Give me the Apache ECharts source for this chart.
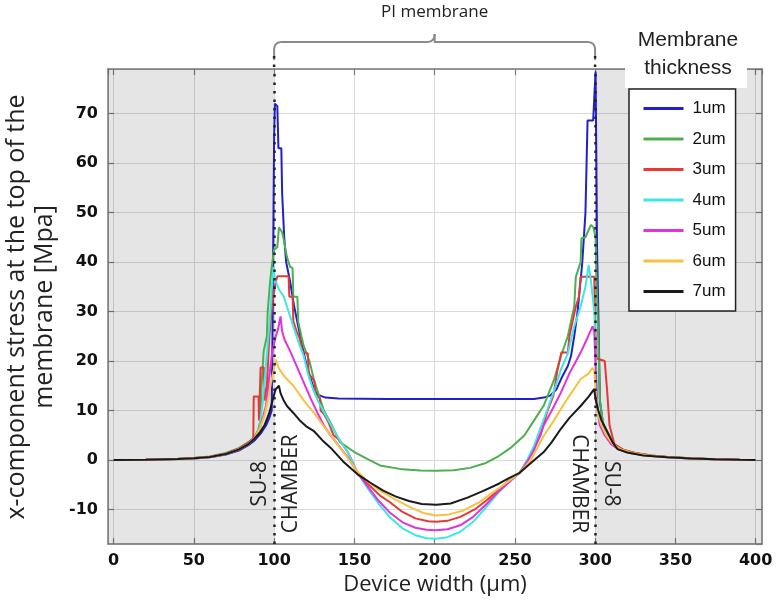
<!DOCTYPE html>
<html><head><meta charset="utf-8">
<script src="https://cdn.jsdelivr.net/npm/echarts@6/dist/echarts.min.js"></script>
<style>html,body{margin:0;padding:0;background:#fff}#c{width:776px;height:601px}</style>
</head><body><div id="c"></div>
<script>
// ---- data ----
const seriesNames = ['1um','2um','3um','4um','5um','6um','7um'];
const seriesColors = ['#2020cc','#4caf50','#e53935','#3ee6e6','#e033d8','#f5c242','#1a1a1a'];

const um1 = [[0,0],[20,0.05],[40,0.2],[50,0.3],[60,0.55],[70,1.1],[78,1.9],[84,3],[88,4],[92,5.5],[95,7],[97,8.5],[98.5,10],[99,25],[99.5,45],[100,65],[100.5,72],[102,71.5],[102.7,63],[104.5,63],[105,54],[106,54],[106.3,45],[107.5,40],[110,36],[112.3,31.4],[115,27],[117.5,23],[120,19.5],[122.7,16.5],[125,14.2],[127,13.2],[132,12.6],[140,12.4],[170,12.3],[230,12.3],[262,12.3],[268,12.6],[272,13],[276,14.3],[279,16.5],[283,19],[285,21],[287,25],[289,29.7],[292,39.8],[294,50],[295,50],[295.3,68.6],[298.8,68.6],[300.3,78.5],[300.8,60],[301.2,43],[302,30],[303,12],[305,7],[308,4.8],[312,2.8],[318,1.9],[325,1.3],[335,0.85],[345,0.6],[360,0.3],[375,0.15],[390,0.05],[400,0]];

const um2 = [[0,0],[20,0.06],[40,0.25],[50,0.4],[60,0.7],[70,1.4],[78,2.4],[84,3.6],[88,4.8],[90,6],[91.5,8],[92,14],[93.5,22],[95.5,25],[96,30],[97.5,36],[98.5,39],[100,42.5],[102,43],[103,47],[105,46],[106,44.5],[108,41],[110,39],[111.5,38.8],[112,33],[114.5,33],[115,28],[117,25],[118.5,23],[122,20],[125,16],[128,13],[131,10],[136,7],[141,3.6],[150,1.6],[158,0.2],[166,-1.1],[180,-1.9],[191,-2.15],[201,-2.2],[212,-2.1],[222,-1.6],[232,-0.6],[240,0.8],[248,2.6],[256,5],[262,8],[268,11],[274.5,16.3],[278.7,21],[283,25],[287,31],[288,37],[291,40],[291.5,44.8],[294,45],[297.4,47.5],[299,47],[300.3,45],[301,35],[302,25],[303,12],[305,7.5],[308,5],[312,2.8],[318,2],[325,1.4],[335,0.9],[345,0.6],[360,0.35],[375,0.15],[390,0.05],[400,0]];

const um3 = [[0,0],[20,0.05],[40,0.22],[50,0.38],[60,0.65],[70,1.3],[78,2.3],[84,3.5],[87,4.2],[87.3,12.8],[90.3,12.8],[90.6,8],[91.3,8],[91.6,18.7],[93.6,18.7],[94,12],[95.5,15],[97,25],[99,32],[101,36],[102,37.1],[109,37.1],[109.5,33],[111.5,33],[112,28],[114,26],[116,24.5],[117.5,22],[121,21.5],[121.5,17.5],[125,16],[126,13],[128.5,12.5],[129,10],[131,9.3],[134,7.5],[137,5],[141,4],[146,1.5],[149,-0.5],[152,-2.6],[156,-4.2],[160,-5.3],[166,-7.2],[172,-8.5],[180,-10.5],[188,-11.8],[196,-12.4],[201,-12.5],[208,-12.3],[216,-11.5],[225,-10],[233,-8],[240,-6],[246,-4.2],[253,-2.6],[258,0],[262,2.5],[266,5],[270,9.6],[274,13],[276.5,18],[279,21.7],[283,21.7],[284,25],[286,28],[288,31],[290,33],[291,37],[299.5,37],[300,27],[301,20.5],[306,20],[307.5,14],[309,7],[312,3.2],[318,2],[325,1.4],[335,0.9],[345,0.6],[360,0.35],[375,0.15],[390,0.05],[400,0]];

const um4 = [[0,0],[20,0.05],[40,0.2],[50,0.35],[60,0.6],[70,1.2],[78,2.1],[84,3.2],[88,4.5],[91,6.5],[93,12],[95.7,22],[97.7,30],[99.5,39],[100.5,36.4],[103,34.5],[106,33],[109,30],[112,27],[115,24],[118.5,21],[121,17.5],[124.6,14],[128,11.5],[133,8.5],[140,4.5],[146,1.5],[152,-2.6],[158,-5.6],[165,-8.8],[172,-11.5],[180,-13.8],[188,-15.2],[195,-15.8],[201,-15.9],[208,-15.6],[216,-14.5],[224,-12.5],[232,-9.6],[240,-6.5],[247,-4.3],[253,-2.6],[258,0.2],[262,2.9],[266,6.5],[270.4,10.3],[275,14.5],[279,18.5],[283,21.5],[287,27],[291,31],[294,35],[296,39.4],[297.5,36],[299.5,30],[300.5,20],[301.5,11],[303,7.5],[306,5.5],[310,3.3],[315,2.1],[322,1.4],[332,0.9],[345,0.55],[360,0.3],[375,0.15],[390,0.05],[400,0]];

const um5 = [[0,0],[20,0.05],[40,0.2],[50,0.34],[60,0.6],[70,1.2],[78,2.1],[84,3.2],[88,4.5],[91,6.3],[93,8.5],[95,11],[97,17],[99,22],[101,25],[102.5,26.5],[104,29],[105,26],[106.5,24.3],[110,22],[114,19],[118,16],[122.7,12.5],[127,9.5],[131,7],[135,5],[140,3],[146,0.5],[152,-2.6],[158,-5.2],[165,-8.2],[172,-10.6],[180,-12.6],[188,-13.7],[195,-14.1],[201,-14.2],[208,-14],[216,-13.2],[224,-11.5],[232,-9],[240,-6.3],[247,-4.3],[253,-2.6],[258,-0.2],[262,2],[268,7],[273,10],[278.7,13.6],[284,17.5],[291,21.7],[295,24.5],[298.4,27],[299.5,26],[300.5,17],[301.5,10],[303,7],[306,5],[310,3.2],[315,2.1],[322,1.4],[332,0.9],[345,0.55],[360,0.3],[375,0.15],[390,0.05],[400,0]];

const um6 = [[0,0],[20,0.05],[40,0.2],[50,0.34],[60,0.6],[70,1.2],[78,2.1],[84,3.2],[88,4.5],[91,6.3],[94,9],[96,12],[98,15.5],[100,18.5],[101,20.3],[102,20],[103,18.5],[105,17.5],[108,16.3],[112,15],[118.5,12],[124.6,9.6],[131,6.8],[137,4.2],[145,0.8],[152,-2.4],[158,-4.2],[165,-6],[175,-7.9],[185,-9.6],[193,-10.7],[201,-11.2],[209,-11],[218,-10.2],[228,-8.5],[238,-6.2],[246,-4.3],[253,-2.6],[260,0],[268,4.9],[274,7.8],[278.7,10.3],[284,13],[291,16.3],[296,17.5],[298.4,18.6],[299.5,18],[300.5,13],[302,9],[304,7],[307,5],[311,3.2],[316,2.1],[323,1.4],[333,0.9],[345,0.55],[360,0.3],[375,0.15],[390,0.05],[400,0]];

const um7 = [[0,0],[20,0.05],[40,0.2],[50,0.34],[60,0.6],[70,1.2],[78,2.1],[84,3.2],[88,4.4],[91,5.5],[94,7],[97,9.5],[99.7,12.9],[101,14.3],[103,15],[104,13.5],[106,12],[108,10.9],[112,9.5],[116.5,7.8],[120,6.8],[124.6,5.9],[130,4],[136,2.2],[143,-0.3],[152,-2.9],[160,-4.6],[168,-6.2],[176,-7.4],[184,-8.3],[192,-8.9],[201,-9.05],[210,-8.8],[220.5,-7.6],[230,-6.3],[240,-4.8],[246,-3.7],[253,-2.6],[260,-0.6],[268,1.6],[273,3.6],[278.7,6.3],[284,8.5],[291,10.9],[296,12.8],[299.4,14.3],[300.5,12],[302,10],[304,8],[307.8,5.6],[311,3.5],[314,2.2],[320,1.5],[330,0.9],[345,0.55],[360,0.3],[375,0.15],[390,0.05],[400,0]];

const seriesData = [um1, um2, um3, um4, um5, um6, um7];

const xRange = [-3.5, 404];
const yRange = [-17, 79];
const chamberEdges = [100, 300];   // SU-8 / chamber boundaries (x)

// ---- chart ----
const chart = echarts.init(document.getElementById('c'), null, {renderer: 'canvas'});
const tickFont = {fontFamily: 'DejaVu Sans', fontWeight: 'bold', fontSize: 16, color: '#111'};
const axisLine = {show: true, onZero: false, lineStyle: {color: '#7a7a7a', width: 1.5}};
const axisTick = {show: true, inside: true, length: 6, lineStyle: {color: '#7a7a7a', width: 1.2}};

const series = seriesNames.map((n, i) => ({
  name: n, type: 'line', data: seriesData[i], symbol: 'none', showSymbol: false,
  lineStyle: {color: seriesColors[i], width: 2}, itemStyle: {color: seriesColors[i]},
  z: 3, animation: false
}));
series.unshift({
  name: 'bg', type: 'line', data: [], symbol: 'none', z: -1, silent: true, animation: false,
  markArea: {silent: true, itemStyle: {color: 'rgba(0,0,0,0.1)'},
    data: [[{xAxis: xRange[0]}, {xAxis: chamberEdges[0]}], [{xAxis: chamberEdges[1]}, {xAxis: xRange[1]}]]}
});
series.push({
  name: 'edges', type: 'line', data: [], symbol: 'none', z: 10, silent: true, animation: false,
  markLine: {silent: true, symbol: 'none', animation: false, label: {show: false},
    lineStyle: {color: '#222', type: [2.5, 6], width: 2.5},
    data: chamberEdges.map(v => ({xAxis: v}))}
});

chart.setOption({
  animation: false,
  backgroundColor: '#fff',
  grid: {left: 108, right: 14, top: 69, bottom: 56},
  xAxis: [{
    type: 'value', min: xRange[0], max: xRange[1], splitNumber: 8,
    axisLine, axisTick,
    axisLabel: Object.assign({showMinLabel: false, showMaxLabel: false, margin: 9}, tickFont),
    splitLine: {show: true, lineStyle: {color: '#dadada', width: 1}},
    name: 'Device width (μm)', nameLocation: 'middle', nameGap: 25,
    nameTextStyle: {fontFamily: 'Open Sans', fontSize: 22, color: '#222'}
  }, {
    type: 'value', position: 'top', min: xRange[0], max: xRange[1], splitNumber: 8,
    axisLine, axisTick, axisLabel: {show: false}, splitLine: {show: false}
  }],
  yAxis: [{
    type: 'value', min: yRange[0], max: yRange[1], splitNumber: 10,
    axisLine, axisTick,
    axisLabel: Object.assign({showMinLabel: false, showMaxLabel: false, margin: 10}, tickFont),
    splitLine: {show: true, lineStyle: {color: '#dadada', width: 1}}
  }, {
    type: 'value', position: 'right', min: yRange[0], max: yRange[1], splitNumber: 10,
    axisLine, axisTick, axisLabel: {show: false}, splitLine: {show: false}
  }],
  legend: {
    data: seriesNames, orient: 'vertical', left: 629, top: 89,
    itemWidth: 40, itemHeight: 14, itemGap: 13.5, padding: [11, 10, 11, 13],
    backgroundColor: '#fff', borderColor: '#222', borderWidth: 1.5,
    lineStyle: {width: 3},
    itemStyle: {opacity: 0, borderWidth: 0},
    textStyle: {fontFamily: 'Liberation Sans', fontSize: 17, color: '#111', width: 42, padding: [0, 0, 0, 4]},
    z: 20
  },
  series
});

// ---- annotations placed through the chart's own scales ----
const p = v => chart.convertToPixel({xAxisIndex: 0, yAxisIndex: 0}, v);
const xa = p([chamberEdges[0], 0])[0];
const xb = p([chamberEdges[1], 0])[0];
const xm = (xa + xb) / 2;
const yTop = p([0, yRange[1]])[1];
const yLab = p([0, -4.8])[1];
const r = 8, yb = 42, ye = 60;
function quad(p0, c, p1) {
  const pts = [];
  for (let i = 0; i <= 8; i++) {
    const t = i / 8, u = 1 - t;
    pts.push([u*u*p0[0] + 2*u*t*c[0] + t*t*p1[0], u*u*p0[1] + 2*u*t*c[1] + t*t*p1[1]]);
  }
  return pts;
}
const braceLeft = [[xa, ye]].concat(quad([xa, yb + r], [xa, yb], [xa + r, yb]), quad([xm - r, yb], [xm, yb], [xm, yb - r]));
const braceRight = [[xm, yb - r]].concat(quad([xm, yb], [xm, yb], [xm + r, yb]).slice(1), quad([xb - r, yb], [xb, yb], [xb, yb + r]), [[xb, ye]]);
const braceStyle = {stroke: '#8a8a8a', lineWidth: 2, fill: null};
const annFont = {fontFamily: 'Open Sans', fontSize: 21, fill: '#222'};

chart.setOption({
  graphic: [
    {type: 'polyline', shape: {points: braceLeft}, style: braceStyle, z: 10},
    {type: 'polyline', shape: {points: braceRight}, style: braceStyle, z: 10},
    {type: 'line', shape: {x1: xa, y1: ye - 4, x2: xa, y2: yTop}, style: {stroke: '#222', lineWidth: 2.5, lineDash: [2.5, 6]}, z: 10},
    {type: 'line', shape: {x1: xb, y1: ye - 4, x2: xb, y2: yTop}, style: {stroke: '#222', lineWidth: 2.5, lineDash: [2.5, 6]}, z: 10},
    {type: 'text', x: xm, y: 12, style: {text: 'PI membrane', fontFamily: 'Open Sans', fontSize: 17, fill: '#222', align: 'center', verticalAlign: 'middle'}, z: 10},
    {type: 'rect', shape: {x: 625, y: 22, width: 122, height: 66}, style: {fill: '#fff'}, z: 15},
    {type: 'text', x: 688, y: 40, style: {text: 'Membrane', fontFamily: 'Liberation Sans', fontSize: 21, fill: '#222', align: 'center', verticalAlign: 'middle'}, z: 16},
    {type: 'text', x: 688, y: 68, style: {text: 'thickness', fontFamily: 'Liberation Sans', fontSize: 21, fill: '#222', align: 'center', verticalAlign: 'middle'}, z: 16},
    {type: 'text', x: xa - 14, y: yLab, rotation: Math.PI / 2, style: Object.assign({text: 'SU-8', align: 'center', verticalAlign: 'middle'}, annFont), z: 12},
    {type: 'text', x: xa + 16.5, y: yLab, rotation: Math.PI / 2, style: Object.assign({text: 'CHAMBER', align: 'center', verticalAlign: 'middle'}, annFont), z: 12},
    {type: 'text', x: xb - 16, y: yLab, rotation: -Math.PI / 2, style: Object.assign({text: 'CHAMBER', align: 'center', verticalAlign: 'middle'}, annFont), z: 12},
    {type: 'text', x: xb + 16, y: yLab, rotation: -Math.PI / 2, style: Object.assign({text: 'SU-8', align: 'center', verticalAlign: 'middle'}, annFont), z: 12},
    {type: 'text', x: 31, y: 307, rotation: Math.PI / 2, style: {text: 'x-component stress at the top of the\nmembrane [Mpa]', fontFamily: 'Open Sans', fontSize: 25, lineHeight: 28, fill: '#222', align: 'center', verticalAlign: 'middle'}, z: 12}
  ]
});
</script>
</body></html>
